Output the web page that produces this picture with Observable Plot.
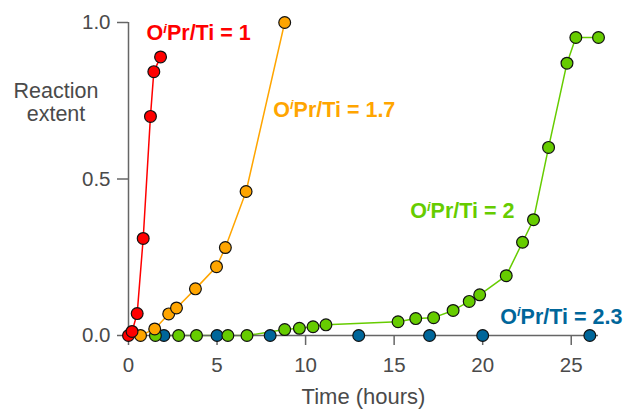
<!DOCTYPE html>
<html>
<head>
<meta charset="utf-8">
<script src="https://cdn.jsdelivr.net/npm/d3@7"></script>
<script src="https://cdn.jsdelivr.net/npm/@observablehq/plot@0.6"></script>
<style>
  html, body { margin: 0; padding: 0; background: #fff; }
  #chart svg { display: block; }
</style>
</head>
<body>
<div id="chart"></div>
<script>
// ---- data ----
const seriesNames = ["1", "1.7", "2", "2.3"];
const seriesColors = ["#ff0000", "#ffa500", "#66cc00", "#00669a"];

const redT = [0, 0.2, 0.49, 0.83, 1.24, 1.43, 1.81];
const redV = [0, 0.013, 0.07, 0.31, 0.70, 0.843, 0.89];

const orangeT = [0.68, 1.48, 2.27, 2.71, 3.78, 4.97, 5.47, 6.64, 8.82];
const orangeV = [0, 0.021, 0.069, 0.088, 0.149, 0.22, 0.281, 0.46, 1.0];

const greenT = [1.52, 2.83, 3.84, 5.61, 6.69, 8.82, 9.65, 10.42, 11.15, 15.22, 16.22, 17.23, 18.33, 19.24, 19.83, 21.33, 22.25, 22.87, 23.72, 24.76, 25.26, 26.54];
const greenV = [0, 0, 0, 0, 0, 0.019, 0.023, 0.028, 0.034, 0.044, 0.054, 0.057, 0.08, 0.109, 0.13, 0.191, 0.298, 0.37, 0.601, 0.87, 0.952, 0.952];

const blueT = [2, 5, 8, 13, 17, 20, 26.05];
const blueV = [0, 0, 0, 0, 0, 0, 0];

// series label anchor positions (data units: hours, extent)
const labelT = [1.02, 8.17, 15.91, 20.99];
const labelV = [0.944, 0.699, 0.374, 0.037];

const xTicks = [0, 5, 10, 15, 20, 25];
const yTicks = [0, 0.5, 1.0];
const xLabel = "Time (hours)";
const yLabel = "Reaction\nextent";

// ---- build tables ----
const toRows = (T, V, s) => T.map((t, i) => ({t, v: V[i], s}));
const lineSeries = [
  toRows(redT, redV, "1"),
  toRows(orangeT, orangeV, "1.7"),
  toRows(greenT, greenV, "2")
];
const dotSeries = [
  toRows(blueT, blueV, "2.3"),
  toRows(greenT, greenV, "2"),
  toRows(orangeT, orangeV, "1.7"),
  toRows(redT, redV, "1")
];
const labels = seriesNames.map((s, i) => ({s, t: labelT[i], v: labelV[i], text: "O|i|Pr/Ti = " + s}));

const FONT = "'Liberation Sans', Arial, Helvetica, sans-serif";
const AXIS = "#666666";
const TEXT = "#4a4a4a";

const plot = Plot.plot({
  width: 629,
  height: 411,
  marginLeft: 128,
  marginRight: 31,
  marginTop: 22,
  marginBottom: 76,
  style: {fontFamily: FONT, background: "#fff"},
  x: {domain: [0, 26.54]},
  y: {domain: [0, 1]},
  color: {domain: seriesNames, range: seriesColors},
  marks: [
    ...lineSeries.map(rows => Plot.line(rows, {x: "t", y: "v", stroke: "s", strokeWidth: 1.5})),
    Plot.ruleY([0], {stroke: AXIS, strokeWidth: 1.5}),
    Plot.ruleX([0], {stroke: AXIS, strokeWidth: 1.5}),
    Plot.axisX({ticks: xTicks, tickSize: 10, tickPadding: 12, fontSize: 20.5, color: TEXT, stroke: AXIS, strokeWidth: 1.5, label: null, tickFormat: d => String(d)}),
    Plot.axisY({ticks: yTicks, tickSize: 11, tickPadding: 7, fontSize: 20.5, color: TEXT, stroke: AXIS, strokeWidth: 1.5, label: null, tickFormat: d3.format(".1f")}),
    ...dotSeries.map(rows => Plot.dot(rows, {x: "t", y: "v", fill: "s", r: 5.9, stroke: "#111", strokeWidth: 1.2})),
    Plot.text(labels, {x: "t", y: "v", text: "text", fill: "s", textAnchor: "start", lineAnchor: "bottom", fontSize: 21.5, fontWeight: "bold", className: "series-label"}),
    Plot.text([yLabel], {frameAnchor: "top-left", dx: -72.5, dy: 59.5, textAnchor: "middle", lineAnchor: "top", lineHeight: 1.06, fontSize: 21.5, fill: TEXT}),
    Plot.text([xLabel], {frameAnchor: "bottom", dy: 68, lineAnchor: "bottom", fontSize: 22, fill: TEXT})
  ]
});

// render the italic superscript "i" in series labels as real text with tspans
const NS = "http://www.w3.org/2000/svg";
plot.querySelectorAll("g.series-label text").forEach(t => {
  const parts = t.textContent.split("|");
  if (parts.length !== 3) return;
  t.textContent = "";
  const a = document.createElementNS(NS, "tspan"); a.textContent = parts[0];
  const b = document.createElementNS(NS, "tspan"); b.textContent = parts[1];
  b.setAttribute("font-style", "italic"); b.setAttribute("font-size", "13"); b.setAttribute("dy", "-7.5");
  const c = document.createElementNS(NS, "tspan"); c.textContent = parts[2]; c.setAttribute("dy", "7.5");
  t.append(a, b, c);
});

document.getElementById("chart").appendChild(plot);
</script>
</body>
</html>
